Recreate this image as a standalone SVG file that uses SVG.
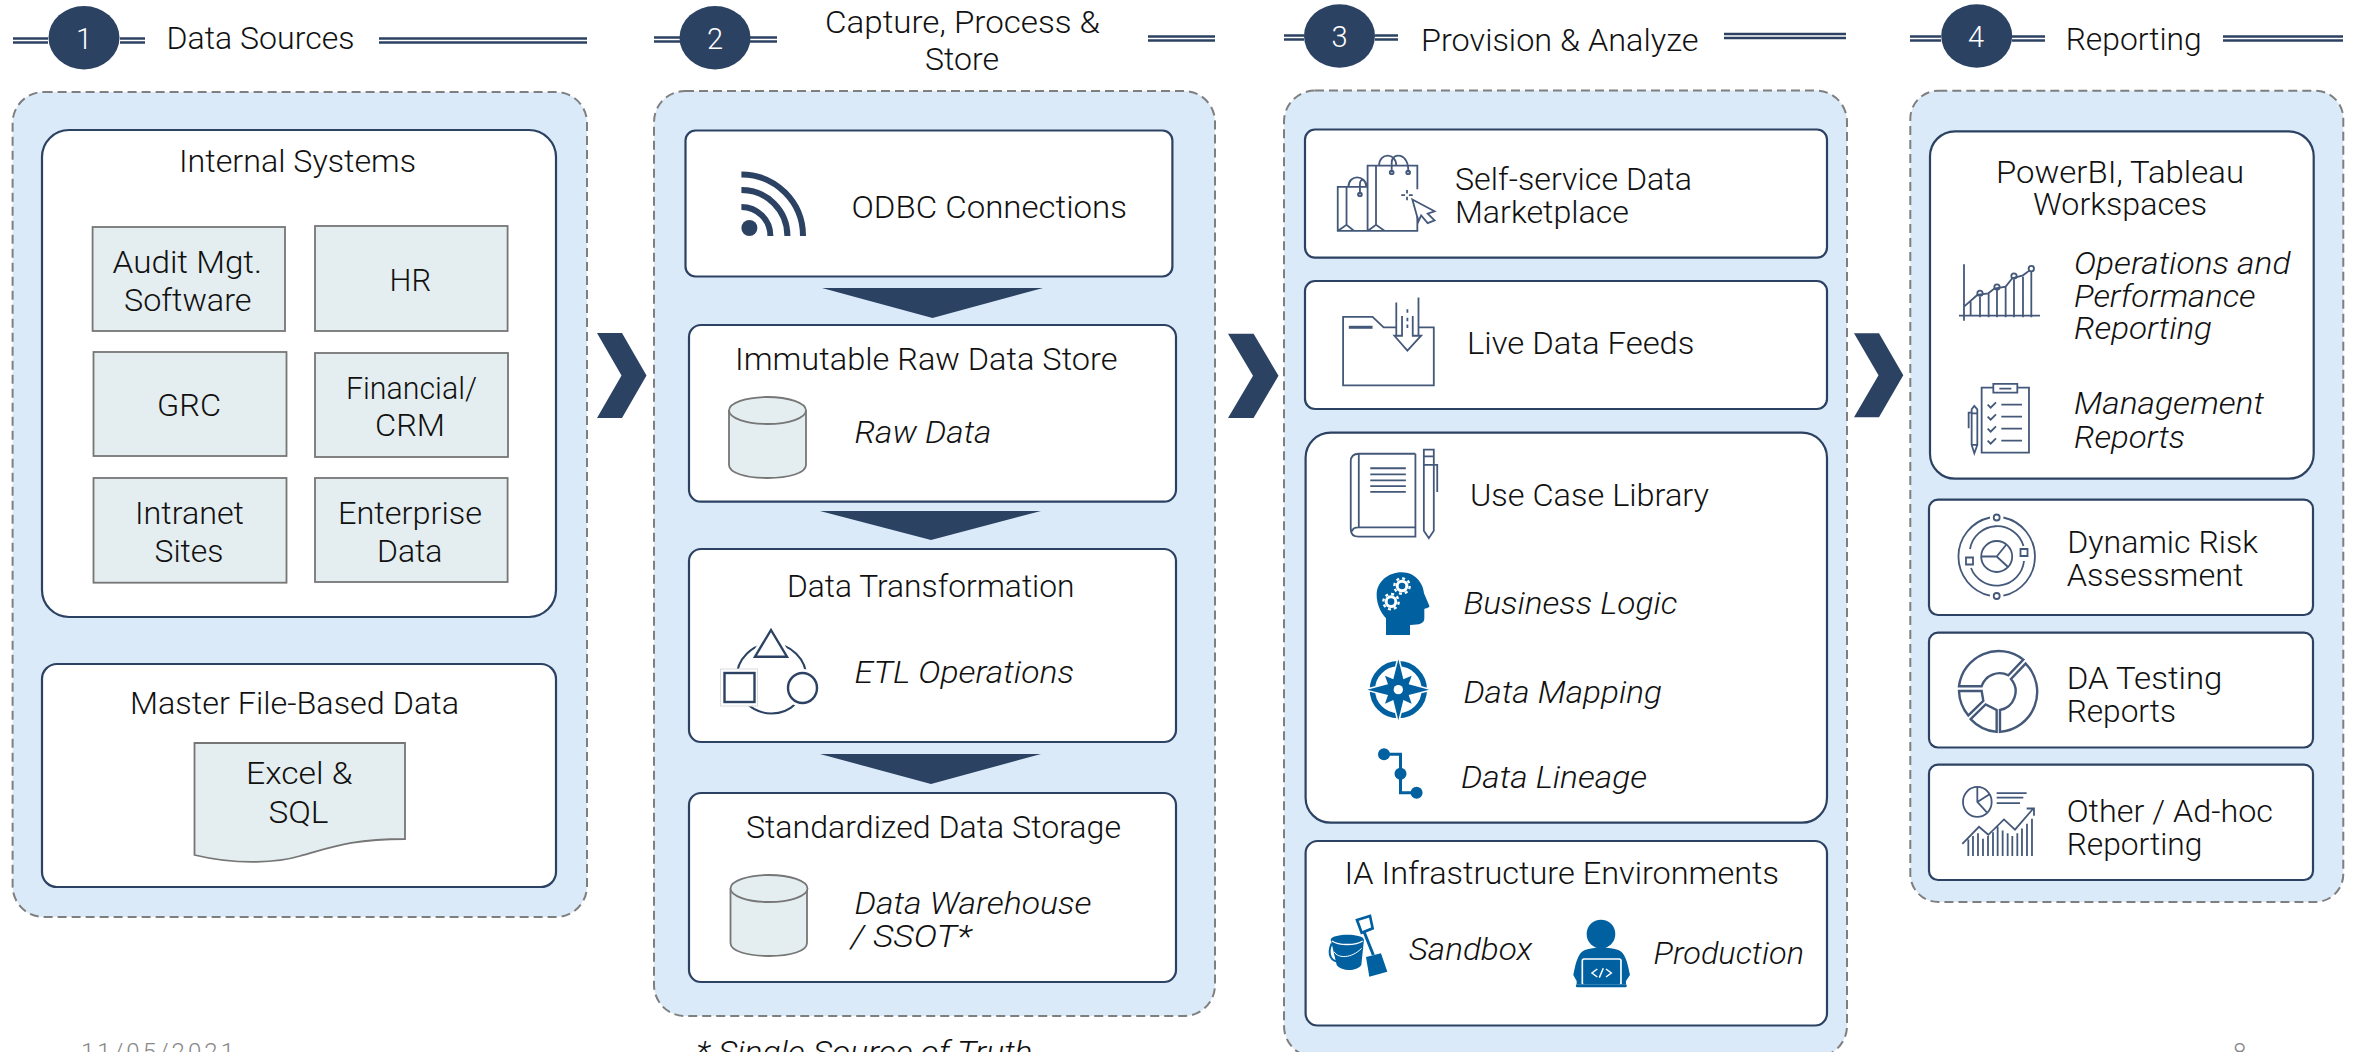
<svg xmlns="http://www.w3.org/2000/svg" width="2356" height="1052" viewBox="0 0 2356 1052">
<style>
text{font-family:"Roboto","Liberation Sans",Arial,sans-serif;font-weight:300;font-size:32px;fill:#111;transform:translate(-1px,1px)}
.i{font-style:italic}
.a{text-anchor:middle}
.n{fill:#fff;font-size:29px;text-anchor:middle;transform:none}
.g{fill:#888;font-size:24px}
.p{fill:#daeaf9;stroke:#7f7f7f;stroke-width:2;stroke-dasharray:9 5}
.b{fill:#fff;stroke:#2c4263;stroke-width:2.2}
.s{fill:#e4edef;stroke:#767676;stroke-width:1.800}
.c{fill:#2c4263}
.dl{fill:none;stroke:#2c4263;stroke-width:2.4}
.ic{fill:none;stroke:#44587a;stroke-width:1.800;vector-effect:non-scaling-stroke}
.w{fill:#fff}
.bl{fill:#0060a0}
</style>

<g id="step1-header">
<path class="dl" d="M13,38.500H48M13,42.500H48M120,38.500H145M120,42.500H145M379,38.500H587M379,42.500H587"/>
<ellipse class="c" cx="84" cy="37.700" rx="35.500" ry="31.700"/>
<text class="n" x="84" y="49">1</text>
<text x="167.500" y="48" textLength="188" lengthAdjust="spacingAndGlyphs">Data Sources</text>
</g>
<g id="step2-header">
<path class="dl" d="M654,37.500H680M654,41.500H680M750,37.500H777M750,41.500H777M1148,36.500H1215M1148,40.500H1215"/>
<ellipse class="c" cx="715" cy="37.700" rx="35.500" ry="31.700"/>
<text class="n" x="715" y="49">2</text>
<text x="826" y="32" textLength="275" lengthAdjust="spacingAndGlyphs">Capture, Process &amp;</text>
<text x="926" y="69" textLength="74" lengthAdjust="spacingAndGlyphs">Store</text>
</g>
<g id="step3-header">
<path class="dl" d="M1284,35.500H1304M1284,39.500H1304M1375,35.500H1398M1375,39.500H1398M1724,34H1846M1724,38H1846"/>
<ellipse class="c" cx="1339.500" cy="36" rx="35.500" ry="31.700"/>
<text class="n" x="1339.500" y="47">3</text>
<text x="1422" y="50" textLength="277.500" lengthAdjust="spacingAndGlyphs">Provision &amp; Analyze</text>
</g>
<g id="step4-header">
<path class="dl" d="M1910,36.500H1941M1910,40.500H1941M2012,36.500H2045M2012,40.500H2045M2223,36.500H2343M2223,40.500H2343"/>
<ellipse class="c" cx="1976.700" cy="36" rx="35.500" ry="31.700"/>
<text class="n" x="1976" y="47">4</text>
<text x="2066.700" y="49" textLength="136" lengthAdjust="spacingAndGlyphs">Reporting</text>
</g>

<g id="panel1"><rect class="p" x="12.600" y="92" width="574.400" height="825" rx="31"/></g>
<g id="panel2"><rect class="p" x="654" y="91" width="561" height="925" rx="31"/></g>
<g id="panel3"><rect class="p" x="1284" y="90.600" width="563" height="966.400" rx="31"/></g>
<g id="panel4"><rect class="p" x="1910.300" y="90.700" width="433" height="811.300" rx="28"/></g>

<g id="connectors">
<polygon class="c" points="597,333 622,333 646.500,375.500 622,418 597,418 621.500,375.500"/>
<polygon class="c" points="1228,333.700 1253.600,333.700 1278.500,375.800 1253.600,418 1228,418 1253,375.800"/>
<polygon class="c" points="1854,333.300 1879,333.300 1903.300,375.300 1879,417.300 1854,417.300 1878.500,375.300"/>
<polygon class="c" points="822,288 1043,288 932.500,318"/>
<polygon class="c" points="820,511 1041,511 931,540"/>
<polygon class="c" points="820,754 1041,754 931,784"/>
</g>

<g id="internal-systems">
<rect class="b" x="42" y="130" width="514" height="487" rx="27"/>
<text x="180" y="171" textLength="237" lengthAdjust="spacingAndGlyphs">Internal Systems</text>
</g>
<g id="audit"><rect class="s" x="92.600" y="227" width="192.400" height="104"/>
<text x="113.600" y="272" textLength="149.400" lengthAdjust="spacingAndGlyphs">Audit Mgt.</text>
<text x="125" y="310" textLength="127.500" lengthAdjust="spacingAndGlyphs">Software</text></g>
<g id="hr"><rect class="s" x="315" y="226" width="192.600" height="105"/>
<text x="390.600" y="290" textLength="41.500" lengthAdjust="spacingAndGlyphs">HR</text></g>
<g id="grc"><rect class="s" x="93.500" y="352" width="193" height="104"/>
<text x="158" y="415" textLength="64" lengthAdjust="spacingAndGlyphs">GRC</text></g>
<g id="financial"><rect class="s" x="315" y="353" width="193" height="104"/>
<text x="347" y="397.500" textLength="131" lengthAdjust="spacingAndGlyphs">Financial/</text>
<text x="376" y="435" textLength="70" lengthAdjust="spacingAndGlyphs">CRM</text></g>
<g id="intranet"><rect class="s" x="93.500" y="478" width="193" height="104.700"/>
<text x="136" y="523" textLength="109" lengthAdjust="spacingAndGlyphs">Intranet</text>
<text x="155.500" y="561" textLength="69" lengthAdjust="spacingAndGlyphs">Sites</text></g>
<g id="enterprise"><rect class="s" x="315" y="478" width="192.600" height="104"/>
<text x="339" y="523" textLength="144" lengthAdjust="spacingAndGlyphs">Enterprise</text>
<text x="378" y="561" textLength="65.500" lengthAdjust="spacingAndGlyphs">Data</text></g>

<g id="master-file">
<rect class="b" x="42" y="664" width="514" height="223" rx="15"/>
<text x="131" y="712.700" textLength="329" lengthAdjust="spacingAndGlyphs">Master File-Based Data</text>
<path class="s" d="M194.500,743H405V839C350,839 330,848 300,856C280,862 240,866 194.500,855Z"/>
<text x="247" y="783" textLength="106.500" lengthAdjust="spacingAndGlyphs">Excel &amp;</text>
<text x="269.400" y="822" textLength="60" lengthAdjust="spacingAndGlyphs">SQL</text>
</g>

<g id="odbc">
<rect class="b" x="685.500" y="130.500" width="486.900" height="146" rx="10"/>
<circle class="c" cx="749.400" cy="228" r="8"/>
<path fill="none" stroke="#2c4263" stroke-width="6" d="M741.400,174.500A61.500,61.500 0 0 1 803,236M741.400,190A46,46 0 0 1 787.400,236M741.400,207A29,29 0 0 1 770.400,236"/>
<text x="852.500" y="217" textLength="275.500" lengthAdjust="spacingAndGlyphs">ODBC Connections</text>
</g>
<g id="raw-store">
<rect class="b" x="689" y="325" width="487" height="176.700" rx="12"/>
<text x="736" y="368.500" textLength="382.500" lengthAdjust="spacingAndGlyphs">Immutable Raw Data Store</text>
<path class="s" d="M729,410.500V465C729,473 746,478 767.500,478C789,478 806,473 806,465V410.500"/>
<ellipse class="s" cx="767.500" cy="410.500" rx="38.500" ry="13.500"/>
<text class="i" x="855.500" y="442" textLength="137" lengthAdjust="spacingAndGlyphs">Raw Data</text>
</g>
<g id="transform">
<rect class="b" x="689" y="549" width="487" height="193" rx="12"/>
<text x="788" y="595.700" textLength="287.500" lengthAdjust="spacingAndGlyphs">Data Transformation</text>
<circle cx="771.500" cy="678.500" r="35" fill="none" stroke="#2c4263" stroke-width="2"/>
<polygon class="w" points="771,622 795,662 747,662"/>
<polygon points="771,630 787,656.700 755,656.700" fill="#fff" stroke="#2c4263" stroke-width="2.400"/>
<rect x="720.500" y="669" width="37" height="37" fill="#fff" stroke="#dcdcdc" stroke-width="1"/>
<rect x="724.500" y="673" width="30" height="29" fill="#fff" stroke="#2c4263" stroke-width="2.400"/>
<circle class="w" cx="802.500" cy="688" r="19"/>
<ellipse cx="802.500" cy="688" rx="14.500" ry="15" fill="#fff" stroke="#2c4263" stroke-width="2.400"/>
<text class="i" x="855.500" y="682" textLength="219.500" lengthAdjust="spacingAndGlyphs">ETL Operations</text>
</g>
<g id="storage">
<rect class="b" x="689" y="793" width="487" height="189" rx="12"/>
<text x="747" y="836.700" textLength="375" lengthAdjust="spacingAndGlyphs">Standardized Data Storage</text>
<path class="s" d="M730.500,888.500V943C730.500,951 747,956 769,956C791,956 807,951 807,943V888.500"/>
<ellipse class="s" cx="769" cy="888.500" rx="38.500" ry="13.500"/>
<text class="i" x="855.500" y="913" textLength="237" lengthAdjust="spacingAndGlyphs">Data Warehouse</text>
<text class="i" x="851.700" y="945.700" textLength="121" lengthAdjust="spacingAndGlyphs">/ SSOT*</text>
</g>

<g id="marketplace">
<rect class="b" x="1305" y="129.500" width="522" height="128.100" rx="10"/>
<g transform="translate(1270 0) scale(.3827 .3381)">
<path class="ic" d="M385,560V490H255V683H385V640M277,490V665M255,683L277,665L300,683M285,490C285,450 330,450 330,490M318,510V480C318,450 365,450 361,510M257,553H177V683H257M200,553V665M177,683L200,665L220,683M205,553C205,515 250,515 252,553M235,575V545C235,525 250,530 252,550M358,562V572M358,582V592M343,577H353M363,577H373"/>
<circle class="ic" cx="318" cy="510" r="5"/><circle class="ic" cx="361" cy="510" r="5"/><circle class="ic" cx="235" cy="575" r="5"/>
<polygon class="ic" points="372,590 430,625 412,632 430,652 412,660 395,637 388,655"/>
</g>
<text x="1456" y="189.300" textLength="237" lengthAdjust="spacingAndGlyphs">Self-service Data</text>
<text x="1456" y="222.400" textLength="174" lengthAdjust="spacingAndGlyphs">Marketplace</text>
</g>
<g id="live-feeds">
<rect class="b" x="1305" y="281" width="522" height="128" rx="10"/>
<g transform="translate(1270 0) scale(.3827 .3381)">
<path class="ic" d="M330,968H297L268,937H191V1140H428V968H390M345,935V993H325L359,1037L395,993H373V935M330,895V990M388,880V990M359,915V925M359,940V950M359,960V970"/>
<path class="ic" style="stroke-width:3" d="M206,968H268"/>
</g>
<text x="1468" y="353.300" textLength="227.500" lengthAdjust="spacingAndGlyphs">Live Data Feeds</text>
</g>
<g id="use-case-library">
<rect class="b" x="1305.600" y="432.700" width="521.400" height="390" rx="25"/>
<g transform="translate(1270 0) scale(.3827 .3381)">
<path class="ic" d="M380,1342H232C218,1342 211,1350 211,1365V1565C211,1580 218,1587 232,1587H380V1560H232C220,1560 215,1565 215,1572M232,1342V1560M380,1342V1560M262,1385H355M262,1403H355M262,1421H355M262,1438H355M262,1455H355M402,1570V1330H428V1570L415,1592ZM402,1350H428M402,1375H428M428,1375H437V1455"/>
</g>
<text x="1471" y="504.700" textLength="239" lengthAdjust="spacingAndGlyphs">Use Case Library</text>
<g transform="translate(1360 565) scale(.3333)">
<path class="bl" d="M78,210L78,160C60,140 50,115 50,90C50,50 85,22 125,22C165,22 190,55 192,85L208,122C210,128 195,130 193,132L193,160C193,175 180,180 150,180L150,210Z"/>
<circle cx="126" cy="63" r="19" fill="#fff"/><circle cx="126" cy="63" r="23" fill="none" stroke="#fff" stroke-width="7" stroke-dasharray="9 9"/><circle class="bl" cx="126" cy="63" r="10"/>
<circle cx="93" cy="110" r="19" fill="#fff"/><circle cx="93" cy="110" r="23" fill="none" stroke="#fff" stroke-width="7" stroke-dasharray="9 9"/><circle class="bl" cx="93" cy="110" r="10"/>
<circle cx="115" cy="374" r="78" fill="none" stroke="#0060a0" stroke-width="16"/>
<polygon points="115,283 130,343 155,332 146,358 207,374 146,390 155,416 130,405 115,466 100,405 75,416 84,390 22,374 84,358 75,332 100,343" fill="#0060a0" stroke="#fff" stroke-width="9" paint-order="stroke"/>
<circle cx="115" cy="374" r="14" fill="#fff"/>
</g>
<text class="i" x="1464.400" y="612.700" textLength="214" lengthAdjust="spacingAndGlyphs">Business Logic</text>
<text class="i" x="1464.400" y="701.700" textLength="198.500" lengthAdjust="spacingAndGlyphs">Data Mapping</text>
<g>
<path d="M1384,754.300H1400.500V792.700H1416.600" fill="none" stroke="#0060a0" stroke-width="3"/>
<circle class="bl" cx="1384" cy="754.300" r="6"/><circle class="bl" cx="1400.500" cy="773.700" r="6"/><circle class="bl" cx="1416.600" cy="792.700" r="6"/>
</g>
<text class="i" x="1462" y="787" textLength="186" lengthAdjust="spacingAndGlyphs">Data Lineage</text>
</g>
<g id="ia-infrastructure">
<rect class="b" x="1305.600" y="841" width="521.400" height="184.500" rx="12"/>
<text x="1345.400" y="883" textLength="434.600" lengthAdjust="spacingAndGlyphs">IA Infrastructure Environments</text>
<g transform="translate(1320 905) scale(.3333)">
<path class="bl" d="M32,103C40,85 125,85 132,103L124,180C110,200 65,200 50,180Z"/>
<path d="M36,108C55,122 108,122 128,108" fill="none" stroke="#fff" stroke-width="4"/>
<path d="M35,115C20,150 35,172 60,170C85,168 115,150 128,130" fill="none" stroke="#0060a0" stroke-width="6"/>
<path d="M42,140C55,162 95,160 125,130" fill="none" stroke="#fff" stroke-width="3"/>
<path d="M128,72L158,155" fill="none" stroke="#fff" stroke-width="15"/>
<path d="M130,75L160,150" fill="none" stroke="#0060a0" stroke-width="9"/>
<polygon points="111,45 150,33 158,70 125,83" fill="#fff" stroke="#0060a0" stroke-width="8"/>
<polygon class="bl" points="138,156 183,145 202,200 148,215"/>
<circle class="bl" cx="843" cy="87" r="43"/>
<path class="bl" d="M795,135C820,125 870,125 895,135C915,142 922,170 930,210L918,228L918,238H770V228L760,210C768,170 775,142 795,135Z"/>
<rect x="787" y="162" width="116" height="78" rx="5" fill="#0060a0" stroke="#fff" stroke-width="5"/>
<rect class="bl" x="768" y="238" width="152" height="9" rx="3"/>
<path d="M832,192L816,204L832,216M858,192L874,204L858,216M850,190L838,218" fill="none" stroke="#fff" stroke-width="4.500"/>
</g>
<text class="i" x="1409.700" y="959" textLength="123.600" lengthAdjust="spacingAndGlyphs">Sandbox</text>
<text class="i" x="1654.600" y="962.700" textLength="150.400" lengthAdjust="spacingAndGlyphs">Production</text>
</g>

<g id="workspaces">
<rect class="b" x="1930" y="131.300" width="383.700" height="347.400" rx="25"/>
<text x="1997" y="181.700" textLength="248" lengthAdjust="spacingAndGlyphs">PowerBI, Tableau</text>
<text x="2034" y="214.300" textLength="174" lengthAdjust="spacingAndGlyphs">Workspaces</text>
<g transform="translate(1840 0) scale(.3333)">
<path class="ic" d="M372,793V962M357,947H600M392,905V947M420,890V952M446,880V952M471,870V952M497,860V952M522,838V952M549,830V952M574,815V952M372,920L412,885L445,880L463,866L497,860L517,835L549,826L568,812"/>
<circle class="ic" cx="420" cy="880" r="8"/><circle class="ic" cx="471" cy="861" r="8"/><circle class="ic" cx="522" cy="828" r="8"/><circle class="ic" cx="574" cy="806" r="8"/>
<path class="ic" d="M460,1163H425V1358H567V1163H532M460,1152H532V1178H460ZM478,1166H514M484,1214H546M484,1250H546M484,1286H546M484,1322H546M443,1214L452,1223L468,1207M443,1250L452,1259L468,1243M443,1286L452,1295L468,1279M443,1322L452,1331L468,1315M395,1335V1228L403,1218L412,1228V1335L403,1360ZM395,1335H412M395,1240H412M395,1238H386V1285"/>
</g>
<text class="i" x="2075" y="273.300" textLength="216.500" lengthAdjust="spacingAndGlyphs">Operations and</text>
<text class="i" x="2075" y="305.700" textLength="181.500" lengthAdjust="spacingAndGlyphs">Performance</text>
<text class="i" x="2075" y="338.300" textLength="138" lengthAdjust="spacingAndGlyphs">Reporting</text>
<text class="i" x="2075" y="413.300" textLength="190" lengthAdjust="spacingAndGlyphs">Management</text>
<text class="i" x="2075" y="446.700" textLength="111" lengthAdjust="spacingAndGlyphs">Reports</text>
</g>
<g id="risk">
<rect class="b" x="1929" y="499.700" width="384" height="115.300" rx="9"/>
<path class="ic" d="M1990,517.500A40,40 0 0 0 1990,595.700M2003.400,517.500A40,40 0 0 1 2003.400,595.700M1970,549A27.500,27.500 0 0 1 2023.500,546M1971,568A27.500,27.500 0 0 0 2024,561M1996.700,556.500L2006,545M1996.700,556.500H1981.200M1996.700,556.500L2008,567"/>
<circle class="ic" cx="1996.700" cy="517.500" r="3"/><circle class="ic" cx="1996.700" cy="596" r="3"/>
<circle class="ic" cx="1996.700" cy="556.500" r="15.500"/>
<rect class="ic" x="2020.500" y="549" width="7" height="7"/><rect class="ic" x="1966" y="557.500" width="7" height="7"/>
<text x="2068.300" y="552.300" textLength="190.700" lengthAdjust="spacingAndGlyphs">Dynamic Risk</text>
<text x="2067.700" y="585" textLength="176.800" lengthAdjust="spacingAndGlyphs">Assessment</text>
</g>
<g id="da-testing">
<rect class="b" x="1929" y="632.600" width="384" height="114.900" rx="9"/>
<g transform="translate(1840 480) scale(.3333 .3650)">
<path class="ic" style="stroke-width:2.400" d="M357,565A120,110 0 0 1 550,492L505,535A57,52 0 0 0 425,565ZM557,503A120,110 0 0 1 480,690V630A57,52 0 0 0 513,545ZM357,578H425L430,605L385,645A120,110 0 0 1 357,578ZM392,655L437,615L470,630V690A120,110 0 0 1 392,655Z"/>
</g>
<text x="2067.700" y="688" textLength="155.700" lengthAdjust="spacingAndGlyphs">DA Testing</text>
<text x="2067.700" y="720.900" textLength="109.300" lengthAdjust="spacingAndGlyphs">Reports</text>
</g>
<g id="other-reporting">
<rect class="b" x="1929" y="764.700" width="384" height="115.300" rx="9"/>
<g transform="translate(1840 480) scale(.3333 .3650)">
<ellipse class="ic" cx="412" cy="882" rx="43" ry="41"/>
<path class="ic" d="M412,841V882L440,910M412,882L450,860M470,858H560M470,870H550M470,885H540M367,997L417,950L445,972L492,930L525,958L580,900M560,900H582V920M385,985V1030M399,975V1030M414,968V1030M429,983V1030M444,975V1030M459,965V1030M473,950V1030M488,960V1030M503,968V1030M517,975V1030M532,968V1030M546,955V1030M561,942V1030M576,928V1030"/>
</g>
<text x="2067.700" y="821.200" textLength="206.300" lengthAdjust="spacingAndGlyphs">Other / Ad-hoc</text>
<text x="2067.700" y="854" textLength="135.700" lengthAdjust="spacingAndGlyphs">Reporting</text>
</g>

<g id="footer">
<text class="g" x="82" y="1059" textLength="153" lengthAdjust="spacing">11/05/2021</text>
<text class="i" x="697" y="1062" textLength="336.500" lengthAdjust="spacingAndGlyphs">* Single Source of Truth</text>
<text class="g" x="2234" y="1059">8</text>
</g>
</svg>
